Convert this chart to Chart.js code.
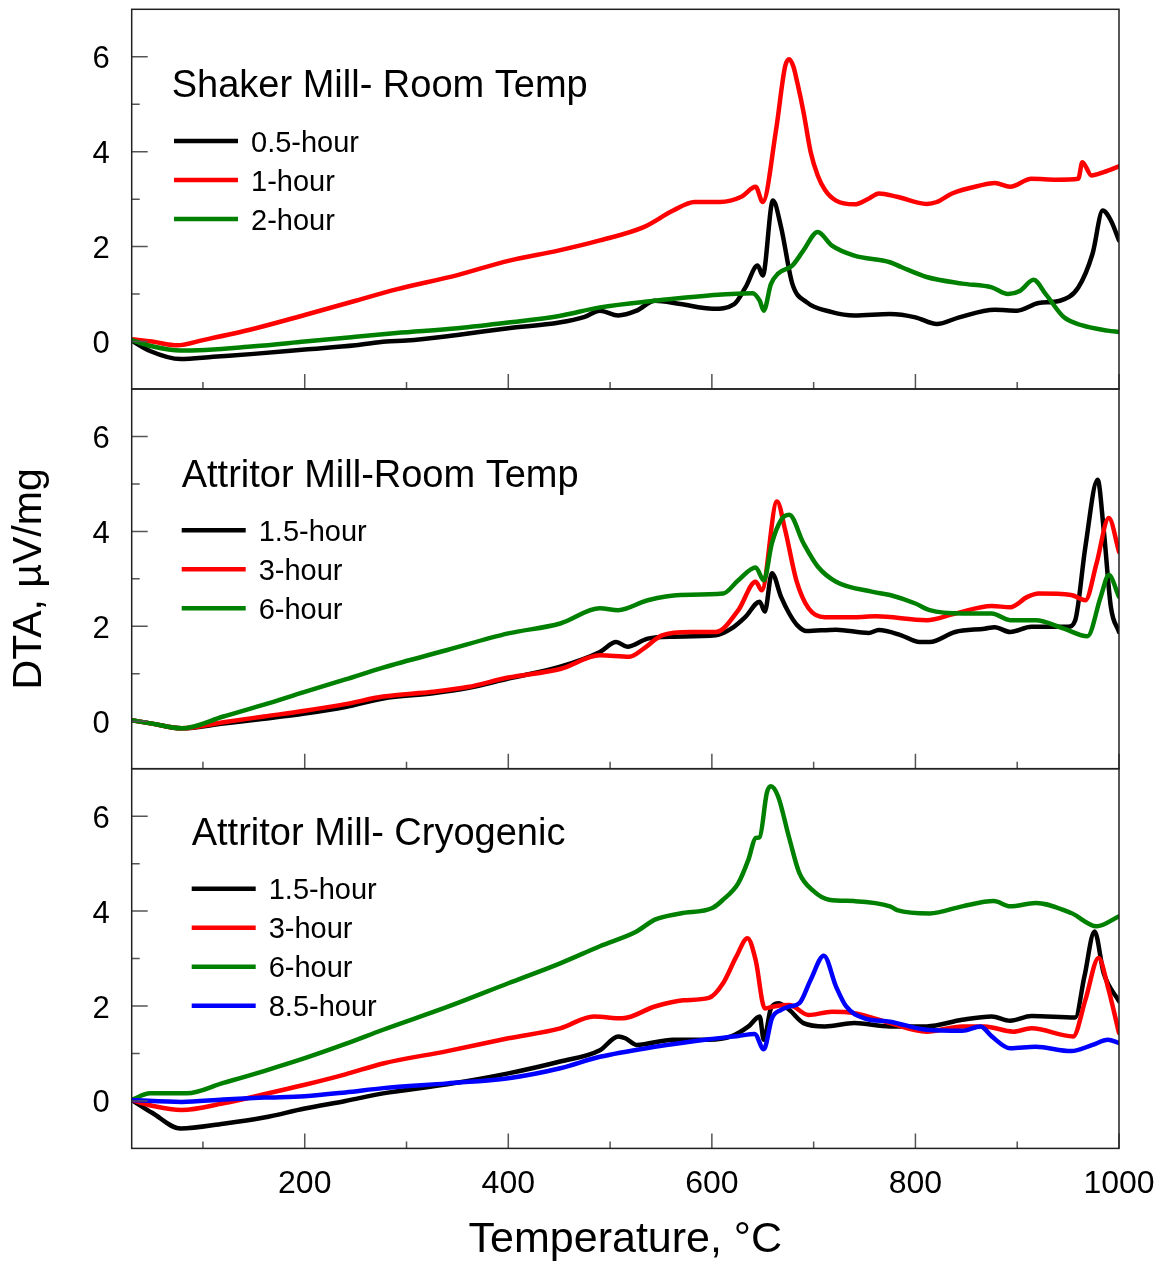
<!DOCTYPE html>
<html>
<head>
<meta charset="utf-8">
<title>DTA curves</title>
<script src="https://cdn.jsdelivr.net/npm/chart.js@4.4.1/dist/chart.umd.min.js"></script>
<style>
  html, body { margin: 0; padding: 0; background: #fff; }
  #wrap { width: 1168px; height: 1266px; }
</style>
</head>
<body>
<div id="wrap"><canvas id="dta-chart" width="1168" height="1266"></canvas></div>
<script>
const FONT = '"Liberation Sans", Arial, Helvetica, sans-serif';

const xTicks = [200, 400, 600, 800, 1000];
const xMinorTicks = [100, 300, 500, 700, 900];
const yTicks = [0, 2, 4, 6];
const yMinorTicks = [1, 3, 5];

const panelIds = ['yTop', 'yMid', 'yBot'];
const panelTitles = ['Shaker Mill- Room Temp', 'Attritor Mill-Room Temp', 'Attritor Mill- Cryogenic'];

// [temperature °C, DTA µV/mg]
// shaker mill, room temperature
const shaker05h = [[30,0.02],[48,-0.2],[78,-0.37],[110,-0.32],[150,-0.26],[200,-0.17],[250,-0.08],[280,0.0],[300,0.02],[350,0.14],[400,0.28],[450,0.4],[475,0.52],[490,0.65],[508,0.55],[526,0.65],[544,0.86],[569,0.79],[601,0.69],[622,0.79],[633,1.14],[645,1.6],[650,1.39],[660,2.97],[668,2.41],[679,1.22],[693,0.83],[718,0.62],[740,0.55],[775,0.58],[800,0.51],[821,0.37],[843,0.51],[878,0.67],[900,0.65],[921,0.81],[942,0.86],[960,1.14],[974,1.85],[984,2.76],[992,2.55],[1000,2.13]];
const shaker1h = [[30,0.05],[50,0.0],[75,-0.08],[100,0.03],[150,0.27],[200,0.56],[250,0.86],[290,1.1],[350,1.4],[400,1.7],[450,1.92],[490,2.13],[533,2.41],[562,2.76],[583,2.94],[608,2.94],[629,3.05],[643,3.26],[650,2.94],[663,4.45],[672,5.8],[676,5.95],[680,5.8],[684,5.45],[690,4.84],[697,4.0],[704,3.5],[711,3.2],[722,2.97],[740,2.89],[754,3.01],[764,3.12],[782,3.05],[811,2.9],[821,2.94],[836,3.12],[864,3.29],[878,3.34],[893,3.26],[914,3.43],[939,3.41],[960,3.43],[964,3.78],[973,3.5],[985,3.57],[1000,3.69]];
const shaker2h = [[30,0.03],[50,-0.1],[78,-0.19],[150,-0.1],[200,0.0],[250,0.1],[290,0.18],[350,0.28],[400,0.4],[450,0.54],[490,0.72],[544,0.86],[597,0.97],[640,1.02],[647,0.86],[651,0.65],[658,1.21],[665,1.43],[679,1.6],[690,1.92],[704,2.31],[718,2.02],[740,1.81],[775,1.67],[786,1.57],[811,1.36],[846,1.22],[875,1.14],[891,1.0],[903,1.07],[916,1.3],[928,1.0],[946,0.51],[964,0.34],[989,0.23],[1000,0.2]];

// attritor mill, room temperature
const attritorRt15h = [[30,0.02],[50,-0.05],[79,-0.15],[120,-0.05],[160,0.05],[200,0.16],[240,0.3],[277,0.48],[326,0.59],[360,0.7],[400,0.9],[451,1.15],[490,1.46],[506,1.67],[517,1.57],[537,1.74],[562,1.78],[604,1.81],[619,1.95],[633,2.2],[647,2.52],[652,2.31],[659,3.12],[668,2.62],[676,2.27],[684,2.02],[693,1.9],[722,1.93],[754,1.86],[764,1.92],[786,1.81],[804,1.67],[814,1.67],[839,1.88],[868,1.95],[878,1.98],[893,1.88],[914,1.99],[950,1.99],[957,2.13],[967,3.68],[979,5.09],[985,4.03],[992,2.41],[1000,1.88]];
const attritorRt3h = [[30,0.02],[50,-0.05],[79,-0.15],[120,-0.02],[160,0.1],[200,0.22],[240,0.36],[277,0.52],[326,0.62],[360,0.72],[400,0.92],[451,1.1],[490,1.39],[519,1.36],[533,1.53],[551,1.81],[579,1.88],[604,1.88],[626,2.34],[643,2.94],[649,2.76],[664,4.63],[672,4.03],[683,2.97],[695,2.38],[711,2.19],[740,2.19],[761,2.21],[811,2.13],[839,2.27],[875,2.43],[893,2.4],[910,2.62],[921,2.69],[953,2.66],[967,2.55],[978,3.33],[990,4.28],[1000,3.57]];
const attritorRt6h = [[30,0.02],[50,-0.05],[79,-0.15],[120,0.1],[160,0.35],[200,0.62],[240,0.88],[277,1.13],[340,1.5],[400,1.85],[451,2.06],[490,2.38],[508,2.34],[537,2.55],[569,2.66],[611,2.69],[626,2.97],[643,3.24],[651,2.97],[659,3.75],[668,4.24],[676,4.35],[690,3.75],[704,3.26],[722,2.94],[757,2.73],[775,2.66],[800,2.48],[814,2.34],[846,2.27],[875,2.27],[893,2.13],[918,2.13],[946,1.95],[969,1.79],[982,2.62],[990,3.08],[1000,2.62]];

// attritor mill, cryogenic
const cryo15h = [[30,0.02],[50,-0.25],[78,-0.58],[120,-0.48],[160,-0.35],[200,-0.16],[240,0.0],[277,0.16],[340,0.35],[400,0.58],[451,0.83],[490,1.07],[508,1.36],[515,1.32],[526,1.18],[562,1.29],[597,1.29],[619,1.36],[636,1.57],[647,1.78],[651,1.29],[658,1.95],[665,2.06],[676,1.92],[690,1.64],[711,1.57],[740,1.64],[775,1.57],[811,1.57],[846,1.71],[875,1.78],[893,1.69],[914,1.79],[957,1.76],[966,2.62],[976,3.57],[985,2.69],[1000,2.1]];
const cryo3h = [[30,0.02],[50,-0.1],[79,-0.19],[120,-0.05],[160,0.14],[200,0.34],[240,0.56],[277,0.79],[340,1.05],[400,1.32],[451,1.53],[484,1.78],[512,1.74],[544,1.99],[572,2.12],[597,2.17],[611,2.48],[624,3.04],[635,3.43],[643,2.97],[652,1.95],[661,1.99],[676,2.02],[695,1.81],[718,1.88],[740,1.85],[775,1.64],[811,1.46],[846,1.57],[868,1.57],[896,1.46],[914,1.53],[955,1.36],[967,2.13],[980,3.01],[989,2.41],[1000,1.43]];
const cryo6h = [[30,0.02],[48,0.16],[84,0.16],[120,0.38],[160,0.63],[200,0.9],[240,1.2],[277,1.5],[340,1.98],[400,2.48],[451,2.9],[490,3.26],[526,3.57],[544,3.82],[569,3.95],[601,4.07],[611,4.24],[626,4.59],[636,5.09],[643,5.54],[647,5.56],[654,6.49],[658,6.63],[665,6.42],[676,5.54],[686,4.8],[700,4.42],[715,4.24],[740,4.21],[775,4.1],[782,4.02],[814,3.95],[846,4.1],[877,4.21],[893,4.1],[918,4.17],[953,3.96],[978,3.68],[1000,3.89]];
const cryo85h = [[30,0.02],[79,-0.02],[120,0.03],[160,0.07],[200,0.1],[240,0.18],[277,0.27],[340,0.37],[400,0.48],[451,0.69],[490,0.93],[544,1.14],[597,1.3],[626,1.37],[642,1.41],[651,1.09],[659,1.74],[668,1.92],[676,1.99],[686,2.06],[697,2.55],[710,3.06],[722,2.41],[732,1.99],[750,1.74],[775,1.67],[811,1.5],[846,1.48],[864,1.57],[875,1.36],[893,1.11],[918,1.14],[953,1.05],[974,1.18],[989,1.29],[1000,1.22]];

const BLACK = '#000000', RED = '#ff0000', GREEN = '#008000', BLUE = '#0000ff';

const series = [
  { axis: 'yTop', label: '0.5-hour', color: BLACK, points: shaker05h },
  { axis: 'yTop', label: '1-hour', color: RED, points: shaker1h },
  { axis: 'yTop', label: '2-hour', color: GREEN, points: shaker2h },
  { axis: 'yMid', label: '1.5-hour', color: BLACK, points: attritorRt15h },
  { axis: 'yMid', label: '3-hour', color: RED, points: attritorRt3h },
  { axis: 'yMid', label: '6-hour', color: GREEN, points: attritorRt6h },
  { axis: 'yBot', label: '1.5-hour', color: BLACK, points: cryo15h },
  { axis: 'yBot', label: '3-hour', color: RED, points: cryo3h },
  { axis: 'yBot', label: '6-hour', color: GREEN, points: cryo6h },
  { axis: 'yBot', label: '8.5-hour', color: BLUE, points: cryo85h }
];

const datasets = series.map((s, i) => ({
  label: s.label,
  yAxisID: s.axis,
  data: s.points.map(([x, y]) => ({ x, y })),
  borderColor: s.color,
  backgroundColor: s.color,
  borderWidth: 4.5,
  pointRadius: 0,
  cubicInterpolationMode: 'monotone',
  borderJoinStyle: 'round',
  borderCapStyle: 'round',
  order: series.length - i   // later curves on top
}));

// box, inner tick marks for every panel
const panelFrame = {
  id: 'panelFrame',
  afterDatasetsDraw(chart) {
    const { ctx, chartArea, scales } = chart;
    const x = scales.x;
    ctx.save();
    panelIds.forEach(id => {
      const y = scales[id];
      ctx.strokeStyle = '#555';
      ctx.lineWidth = 1.5;
      ctx.beginPath();
      xTicks.forEach(v => {
        const px = x.getPixelForValue(v);
        ctx.moveTo(px, y.bottom); ctx.lineTo(px, y.bottom - 15);
      });
      xMinorTicks.forEach(v => {
        const px = x.getPixelForValue(v);
        ctx.moveTo(px, y.bottom); ctx.lineTo(px, y.bottom - 7);
      });
      yTicks.forEach(v => {
        const py = y.getPixelForValue(v);
        ctx.moveTo(chartArea.left, py); ctx.lineTo(chartArea.left + 16, py);
      });
      yMinorTicks.forEach(v => {
        const py = y.getPixelForValue(v);
        ctx.moveTo(chartArea.left, py); ctx.lineTo(chartArea.left + 8, py);
      });
      ctx.stroke();
      ctx.strokeStyle = '#222';
      ctx.strokeRect(chartArea.left, y.top, chartArea.right - chartArea.left, y.bottom - y.top);
    });
    ctx.restore();
  }
};

// title and line legend inside each panel
const panelLegends = {
  id: 'panelLegends',
  afterDatasetsDraw(chart, args, opts) {
    const { ctx, chartArea, scales } = chart;
    ctx.save();
    ctx.fillStyle = '#000';
    ctx.textBaseline = 'middle';
    ctx.textAlign = 'left';
    opts.boxes.forEach((box, i) => {
      const id = panelIds[i];
      const y = scales[id];
      const left = chartArea.left + box.left;
      const titleY = y.top + box.top;
      ctx.font = `${opts.titleSize}px ${FONT}`;
      ctx.fillText(panelTitles[i], left, titleY + 3);
      let rowY = titleY + opts.firstRow;
      chart.data.datasets.forEach(ds => {
        if (ds.yAxisID !== id) return;
        const lx = left + box.lineLeft;
        ctx.strokeStyle = ds.borderColor;
        ctx.lineWidth = 4.5;
        ctx.beginPath();
        ctx.moveTo(lx, rowY);
        ctx.lineTo(lx + 64, rowY);
        ctx.stroke();
        ctx.font = `${opts.labelSize}px ${FONT}`;
        ctx.fillText(ds.label, lx + 77, rowY + 2.5);
        rowY += opts.rowGap;
      });
    });
    ctx.restore();
  }
};

function yScale(showTitle) {
  return {
    type: 'linear',
    position: 'left',
    stack: 'dta',
    stackWeight: 1,
    min: -1,
    max: 7,
    grid: { display: false, drawTicks: false },
    border: { display: false },
    afterBuildTicks: axis => { axis.ticks = yTicks.map(v => ({ value: v })); },
    afterFit: axis => {
      axis.width = 131.7;
      axis.paddingTop = 0;
      axis.paddingBottom = 0;
    },
    ticks: {
      padding: 22,
      labelOffset: 3,
      color: '#000',
      font: { family: FONT, size: 31 }
    },
    title: {
      display: showTitle,
      text: 'DTA, µV/mg',
      color: '#000',
      padding: { top: 5, bottom: 0 },
      font: { family: FONT, size: 41 }
    }
  };
}

new Chart(document.getElementById('dta-chart'), {
  type: 'line',
  data: { datasets },
  options: {
    responsive: false,
    animation: false,
    events: [],
    layout: { padding: { left: 0, right: 49, top: 9.3, bottom: 0 } },
    plugins: {
      legend: { display: false },
      tooltip: { enabled: false },
      panelLegends: {
        titleSize: 38,
        labelSize: 29,
        firstRow: 57,
        rowGap: 39,
        boxes: [
          { left: 40, top: 74.7, lineLeft: 2.3 },
          { left: 50, top: 84.3, lineLeft: 0 },
          { left: 60, top: 63, lineLeft: 0 }
        ]
      }
    },
    scales: {
      x: {
        type: 'linear',
        min: 30,
        max: 1000,
        grid: { display: false, drawTicks: false },
        border: { display: false },
        afterBuildTicks: axis => { axis.ticks = xTicks.map(v => ({ value: v })); },
        afterFit: axis => {
          axis.height = 117.6;
          axis.paddingLeft = 0;
          axis.paddingRight = 0;
        },
        ticks: {
          padding: 17,
          maxRotation: 0,
          color: '#000',
          font: { family: FONT, size: 32 },
          callback: v => String(v)
        },
        title: {
          display: true,
          text: 'Temperature, °C',
          color: '#000',
          padding: { top: 0, bottom: 0 },
          font: { family: FONT, size: 43 }
        }
      },
      // stacked scales are laid out bottom-up
      yBot: yScale(false),
      yMid: yScale(true),
      yTop: yScale(false)
    }
  },
  plugins: [panelFrame, panelLegends]
});
</script>
</body>
</html>
